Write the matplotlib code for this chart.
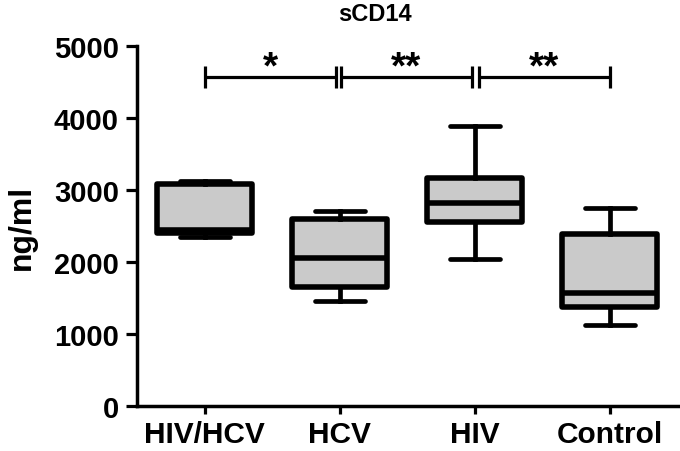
import matplotlib
matplotlib.use("Agg")
import matplotlib.pyplot as plt

categories = ["HIV/HCV", "HCV", "HIV", "Control"]
whisker_low = [2350, 1460, 2040, 1120]
q1 = [2400, 1650, 2560, 1370]
median = [2450, 2060, 2820, 1570]
q3 = [3080, 2600, 3170, 2390]
whisker_high = [3130, 2710, 3890, 2750]
yticks = [0, 1000, 2000, 3000, 4000, 5000]
sig_pairs = [(1, 2), (2, 3), (3, 4)]
sig_labels = ["*", "**", "**"]
sig_y = 4570

plt.rcParams['font.family'] = ['Liberation Sans', 'DejaVu Sans']
plt.rcParams['font.weight'] = 'bold'

fig = plt.figure(figsize=(6.8, 4.52), dpi=100)
ax = fig.add_axes([0.2015, 0.0996, 0.7985, 0.7965])

stats = []
for i, c in enumerate(categories):
    stats.append(dict(label=c, whislo=whisker_low[i], q1=q1[i], med=median[i],
                      q3=q3[i], whishi=whisker_high[i], fliers=[]))

lw = 4.0
bp = ax.bxp(stats, positions=range(1, len(categories) + 1), widths=0.7,
            patch_artist=True, showfliers=False,
            boxprops=dict(facecolor='#cacaca', edgecolor='black', linewidth=lw),
            medianprops=dict(color='black', linewidth=lw, solid_capstyle='butt'),
            whiskerprops=dict(color='black', linewidth=lw * 0.85),
            capprops=dict(color='black', linewidth=lw * 0.85, solid_capstyle='round'),
            capwidths=0.37)
for b in bp['boxes']:
    b.set_joinstyle('round')

# significance brackets
offsets = [(-0.0, -0.03), (0.01, -0.02), (0.03, 0.0)]
for (a, b), lab, (da, db) in zip(sig_pairs, sig_labels, offsets):
    x0, x1 = a + da, b + db
    ax.plot([x0, x1], [sig_y, sig_y], color='black', lw=2.3, solid_capstyle='butt')
    ax.plot([x0, x0], [sig_y - 150, sig_y + 150], color='black', lw=2.3, solid_capstyle='butt')
    ax.plot([x1, x1], [sig_y - 150, sig_y + 150], color='black', lw=2.3, solid_capstyle='butt')
    ax.text((x0 + x1) / 2, sig_y - 120, lab, ha='center', va='bottom',
            fontsize=28, fontweight='bold')

ax.set_xlim(0.5, 4.52)
ax.set_ylim(0, 5000)
ax.set_yticks(yticks)
ax.set_xticks(range(1, len(categories) + 1))
ax.set_xticklabels(categories, fontsize=21.5, fontweight='bold')
ax.tick_params(axis='y', labelsize=21, width=2.3, length=8, pad=5)
ax.tick_params(axis='x', width=2.3, length=6, pad=4)
for lab in ax.get_yticklabels():
    lab.set_fontweight('bold')
ax.spines['top'].set_visible(False)
ax.spines['right'].set_visible(False)
ax.spines['left'].set_linewidth(2.5)
ax.spines['bottom'].set_linewidth(2.5)
ax.set_ylabel("ng/ml", fontsize=23, fontweight='bold', labelpad=12)
fig.text(0.551, 0.968, "sCD14", ha='center', va='center', fontsize=17, fontweight='bold')

fig.savefig("out.png", dpi=100)
